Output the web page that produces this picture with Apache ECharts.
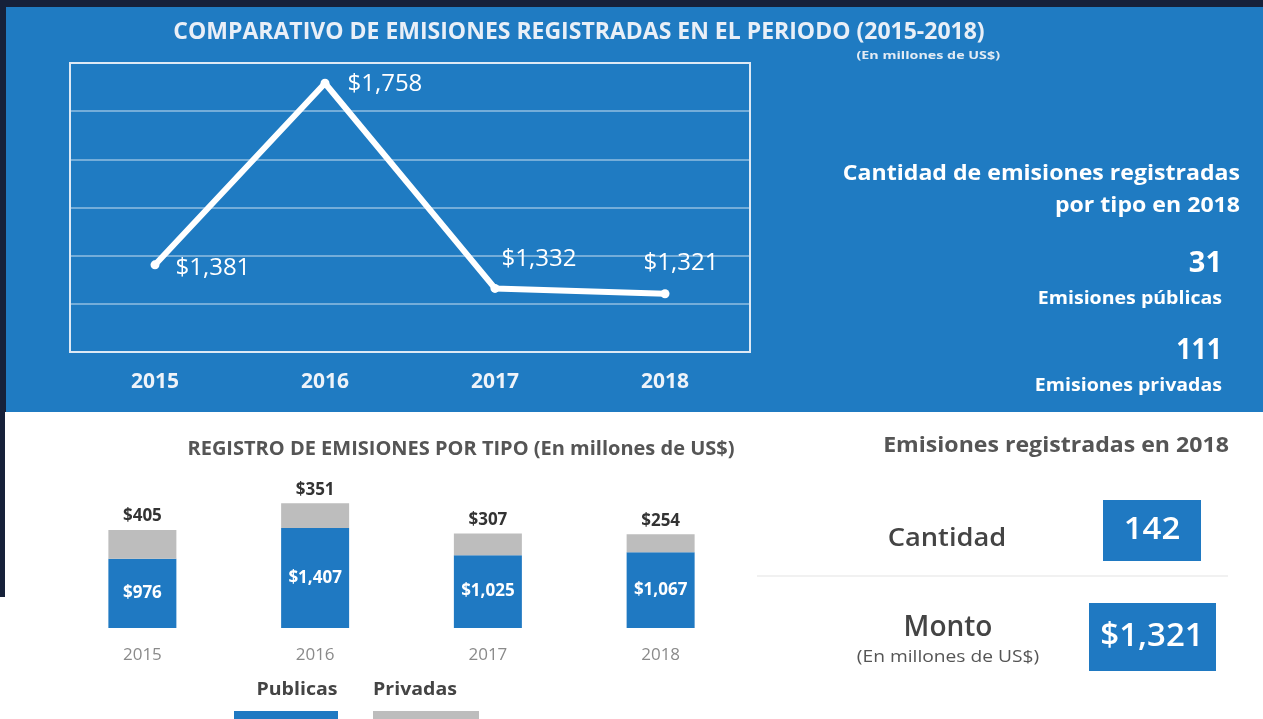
<!DOCTYPE html>
<html><head><meta charset="utf-8">
<script src="https://cdn.jsdelivr.net/npm/echarts@6/dist/echarts.min.js"></script>
<style>html,body{margin:0;padding:0;background:#fff;overflow:hidden}#c{width:1263px;height:719px;}</style>
</head><body><div id="c"></div>
<script>
// ---- data ----
const years = ['2015', '2016', '2017', '2018'];
const totalAmounts = [1381, 1758, 1332, 1321];
const publicAmounts = [976, 1407, 1025, 1067];
const privateAmounts = [405, 351, 307, 254];
const typeNames = ['Publicas', 'Privadas'];
const issuesByType2018 = [31, 111];
const issueTypeLabels = ['Emisiones públicas', 'Emisiones privadas'];
const count2018 = 142;
const amount2018 = 1321;

// ---- styles ----
const FONT = '"Open Sans", "DejaVu Sans", sans-serif';
const BLUE = '#1f7bc2';
const BAR_BLUE = '#1f79c2';
const GRAY = '#bdbdbd';
const NAVY = '#16213a';
const money = v => '$' + Number(v).toLocaleString('en-US');
const lineLabelCfg = [
  {position: 'right', distance: 16, offset: [0, 3]},
  {position: 'right', distance: 18, offset: [0, 1]},
  {position: 'top', distance: 5, offset: [44, -8]},
  {position: 'top', distance: 5, offset: [16, -9]}
];

function txt(text, x, y, size, weight, fill, align, sx) {
  return {
    type: 'text', x: x, y: y, silent: true, z: 5, scaleX: sx || 1,
    style: {text: text, fill: fill, fontSize: size, fontWeight: weight, fontFamily: FONT,
            textAlign: align || 'center', textVerticalAlign: 'middle'}
  };
}

const chart = echarts.init(document.getElementById('c'), null, {renderer: 'canvas'});
chart.setOption({
  backgroundColor: '#ffffff',
  animation: false,
  title: [
    {text: 'COMPARATIVO DE EMISIONES REGISTRADAS EN EL PERIODO (2015-2018)', left: 574, top: 16, textAlign: 'center',
     textStyle: {color: '#e9eff7', fontSize: 23, fontWeight: 'bold', fontFamily: FONT}},
    {text: 'REGISTRO DE EMISIONES POR TIPO (En millones de US$)', left: 456, top: 434, textAlign: 'center',
     textStyle: {color: '#555555', fontSize: 20, fontWeight: 'bold', fontFamily: FONT}}
  ],
  grid: [
    {left: 70, top: 63, width: 680, height: 289, show: true, borderColor: '#dde9f5', borderWidth: 2, backgroundColor: 'transparent', z: 3},
    {left: 56, top: 486, width: 691, height: 142}
  ],
  xAxis: [
    {type: 'category', gridIndex: 0, data: years, boundaryGap: true,
     axisLine: {show: false}, axisTick: {show: false},
     axisLabel: {color: '#eef3f9', fontSize: 21, fontWeight: 'bold', fontFamily: FONT, margin: 20}},
    {type: 'category', gridIndex: 1, data: years,
     axisLine: {show: false}, axisTick: {show: false},
     axisLabel: {color: '#8a8a8a', fontSize: 17, fontFamily: FONT, margin: 19}}
  ],
  yAxis: [
    {type: 'value', gridIndex: 0, min: 1200, max: 1800, interval: 100,
     axisLabel: {show: false}, axisLine: {show: false}, axisTick: {show: false},
     splitLine: {lineStyle: {color: 'rgba(255,255,255,0.38)', width: 2}}},
    {type: 'value', gridIndex: 1, min: 0, max: 2000,
     axisLabel: {show: false}, axisLine: {show: false}, axisTick: {show: false}, splitLine: {show: false}}
  ],
  series: [
    {name: 'Total', type: 'line', xAxisIndex: 0, yAxisIndex: 0, z: 4,
     data: totalAmounts.map((v, i) => ({value: v, label: lineLabelCfg[i]})),
     lineStyle: {color: '#ffffff', width: 6}, itemStyle: {color: '#ffffff'},
     symbol: 'circle', symbolSize: 9,
     label: {show: true, color: '#ffffff', fontSize: 24, fontFamily: FONT, formatter: p => money(p.value)}},
    {name: typeNames[0], type: 'bar', stack: 'tipo', xAxisIndex: 1, yAxisIndex: 1, barWidth: 68,
     data: publicAmounts, itemStyle: {color: BAR_BLUE},
     label: {show: true, position: 'inside', color: '#ffffff', fontSize: 17, fontWeight: 'bold', fontFamily: FONT,
             formatter: p => money(p.value)}},
    {name: typeNames[1], type: 'bar', stack: 'tipo', xAxisIndex: 1, yAxisIndex: 1, barWidth: 68,
     data: privateAmounts, itemStyle: {color: GRAY},
     label: {show: true, position: 'top', distance: 5, color: '#333333', fontSize: 17, fontWeight: 'bold', fontFamily: FONT,
             formatter: p => money(p.value)}}
  ],
  graphic: [
    {type: 'rect', silent: true, z: -10, shape: {x: 0, y: 0, width: 1263, height: 412}, style: {fill: NAVY}},
    {type: 'rect', silent: true, z: -10, shape: {x: 0, y: 0, width: 5, height: 597}, style: {fill: NAVY}},
    {type: 'rect', silent: true, z: -9, shape: {x: 6, y: 7, width: 1257, height: 405}, style: {fill: BLUE}},
    txt('(En millones de US$)', 1000, 56, 11, 'bold', '#e3ebf4', 'right', 1.3),
    // right KPI panel (blue)
    txt('Cantidad de emisiones registradas', 1240, 174, 22, 'bold', '#ffffff', 'right', 1.05),
    txt('por tipo en 2018', 1240, 206, 22, 'bold', '#ffffff', 'right', 1.05),
    txt(String(issuesByType2018[0]), 1222, 264, 29, 'bold', '#ffffff', 'right'),
    txt(issueTypeLabels[0], 1222, 299, 17, 'bold', '#ffffff', 'right', 1.15),
    txt(String(issuesByType2018[1]), 1222, 351, 29, 'bold', '#ffffff', 'right', 0.92),
    txt(issueTypeLabels[1], 1222, 386, 17, 'bold', '#ffffff', 'right', 1.15),
    // bottom right KPIs
    txt('Emisiones registradas en 2018', 1056, 446, 21, 'bold', '#555555', 'center', 1.1),
    txt('Cantidad', 947, 539, 26, 600, '#444444', 'center', 1.05),
    {type: 'rect', silent: true, z: 4, shape: {x: 1103, y: 500, width: 98, height: 61}, style: {fill: BAR_BLUE}},
    txt(String(count2018), 1152, 530, 30, 600, '#ffffff', 'center', 1.1),
    {type: 'line', silent: true, z: 4, shape: {x1: 757, y1: 576, x2: 1228, y2: 576}, style: {stroke: '#ececec', lineWidth: 1.5}},
    txt('Monto', 948, 628, 28, 600, '#444444', 'center'),
    txt('(En millones de US$)', 948, 657, 16, 'normal', '#555555', 'center', 1.2),
    {type: 'rect', silent: true, z: 4, shape: {x: 1089, y: 603, width: 127, height: 68}, style: {fill: BAR_BLUE}},
    txt(money(amount2018), 1152, 637, 33, 600, '#ffffff', 'center'),
    // legend
    txt(typeNames[0], 297, 690, 17, 'bold', '#444444', 'center', 1.15),
    {type: 'rect', silent: true, z: 4, shape: {x: 234, y: 711, width: 104, height: 10}, style: {fill: BAR_BLUE}},
    txt(typeNames[1], 415, 690, 17, 'bold', '#444444', 'center', 1.15),
    {type: 'rect', silent: true, z: 4, shape: {x: 373, y: 711, width: 106, height: 10}, style: {fill: GRAY}}
  ]
});
</script>
</body></html>
